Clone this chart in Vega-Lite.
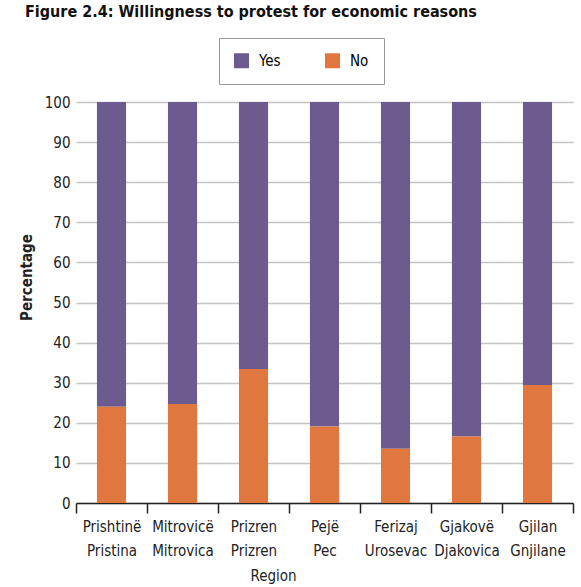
{
  "$schema": "https://vega.github.io/schema/vega-lite/v6.json",
  "width": 497,
  "height": 401,
  "autosize": {"type": "none"},
  "padding": {"left": 76, "top": 102, "right": 8, "bottom": 84},
  "background": "white",
  "config": {
    "font": "DejaVu Sans Condensed",
    "view": {"stroke": null},
    "axis": {"labelFont": "DejaVu Sans Condensed", "titleFont": "DejaVu Sans Condensed", "labelColor": "#222222", "titleColor": "#222222"},
    "legend": {"labelFont": "DejaVu Sans Condensed"}
  },
  "title": {
    "text": "Figure 2.4: Willingness to protest for economic reasons",
    "anchor": "start",
    "frame": "group",
    "dx": -51,
    "dy": 0,
    "offset": 5,
    "fontSize": 16,
    "font": "DejaVu Sans Condensed",
    "fontWeight": "bold",
    "color": "#111111",
    "baseline": "alphabetic"
  },
  "data": {
    "values": [
      {"region": "Prishtinë|Pristina", "answer": "Yes", "pct": 76},
      {"region": "Prishtinë|Pristina", "answer": "No", "pct": 24},
      {"region": "Mitrovicë|Mitrovica", "answer": "Yes", "pct": 75.3},
      {"region": "Mitrovicë|Mitrovica", "answer": "No", "pct": 24.7},
      {"region": "Prizren|Prizren", "answer": "Yes", "pct": 66.6},
      {"region": "Prizren|Prizren", "answer": "No", "pct": 33.4},
      {"region": "Pejë|Pec", "answer": "Yes", "pct": 80.9},
      {"region": "Pejë|Pec", "answer": "No", "pct": 19.1},
      {"region": "Ferizaj|Urosevac", "answer": "Yes", "pct": 86.5},
      {"region": "Ferizaj|Urosevac", "answer": "No", "pct": 13.5},
      {"region": "Gjakovë|Djakovica", "answer": "Yes", "pct": 83.4},
      {"region": "Gjakovë|Djakovica", "answer": "No", "pct": 16.6},
      {"region": "Gjilan|Gnjilane", "answer": "Yes", "pct": 70.6},
      {"region": "Gjilan|Gnjilane", "answer": "No", "pct": 29.4}
    ]
  },
  "mark": {"type": "bar", "width": {"band": 0.41}},
  "encoding": {
    "x": {
      "field": "region",
      "type": "nominal",
      "sort": null,
      "scale": {"paddingInner": 0, "paddingOuter": 0},
      "axis": {
        "title": "Region",
        "titleFontSize": 15,
        "titleFontWeight": "normal",
        "titleX": 197,
        "titlePadding": 10,
        "labelAngle": 0,
        "labelExpr": "split(datum.label, '|')",
        "labelFontSize": 15,
        "labelLineHeight": 24,
        "labelPadding": 6,
        "tickBand": "extent",
        "tickSize": 10,
        "tickColor": "#222222",
        "domainColor": "#222222",
        "domainWidth": 1.5,
        "tickWidth": 1.5,
        "grid": false
      }
    },
    "y": {
      "field": "pct",
      "type": "quantitative",
      "stack": "zero",
      "scale": {"domain": [0, 100], "nice": false},
      "axis": {
        "title": "Percentage",
        "titleFontSize": 15,
        "titleFontWeight": "bold",
        "titleY": 175,
        "titlePadding": 10,
        "values": [0, 10, 20, 30, 40, 50, 60, 70, 80, 90, 100],
        "labelFontSize": 15,
        "labelPadding": 6,
        "domain": false,
        "ticks": false,
        "grid": true,
        "gridColor": "#c4c4c4",
        "gridWidth": 1.5
      }
    },
    "color": {
      "field": "answer",
      "type": "nominal",
      "scale": {"domain": ["Yes", "No"], "range": ["#6c5b8e", "#e0773e"]},
      "legend": {
        "title": null,
        "orient": "none",
        "direction": "horizontal",
        "legendX": 143,
        "legendY": -64,
        "symbolType": "square",
        "symbolSize": 225,
        "symbolStrokeWidth": 0,
        "labelFontSize": 15,
        "labelOffset": 10,
        "columnPadding": 44,
        "padding": 15,
        "strokeColor": "#999999",
        "gridAlign": "all"
      }
    },
    "order": {"field": "answer", "sort": "ascending"}
  }
}
